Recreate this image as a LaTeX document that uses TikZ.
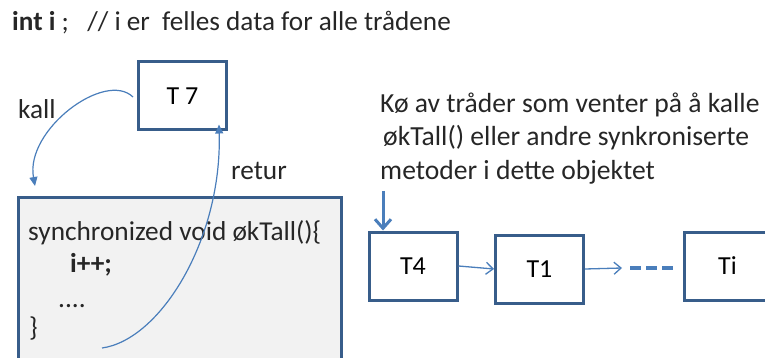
\documentclass[tikz,border=0pt]{standalone}
\usepackage{fontspec}
\setmainfont{Carlito}
\usetikzlibrary{arrows.meta}
\definecolor{boxline}{HTML}{385D8A}
\definecolor{arrowc}{HTML}{4A7EBB}
\definecolor{codefill}{HTML}{F2F2F2}
\tikzset{
  thread/.style={draw=boxline, line width=3pt, fill=white, minimum width=88pt, minimum height=68pt, inner sep=0pt, font=\fontsize{26}{30}\selectfont},
  txt/.style={inner sep=0pt, anchor=base west, font=\fontsize{27.3}{30}\selectfont, text=black!85},
  qtxt/.style={txt, font=\fontsize{27.6}{30}\selectfont},
  thin arrow/.style={draw=arrowc, line width=1.3pt, -{Straight Barb[length=7pt,width=12pt,line width=1.3pt]}},
  curve arrow/.style={draw=arrowc, line width=1.2pt, -{Triangle[length=9pt,width=8pt]}},
}
\begin{document}
\begin{tikzpicture}[x=1pt,y=-1pt]
\useasboundingbox (0,0) rectangle (765,358);
\begin{scope}
\clip (0,0) rectangle (765,358);
% code box
\node[draw=boxline, line width=3pt, fill=codefill, minimum width=323pt, minimum height=180pt, inner sep=0pt, anchor=north west] (code) at (17,196) {};
\node[txt, font=\fontsize{27.2}{30}\selectfont] (title) at (12,31) {\textbf{int i} ; \ \ // i er \ felles data for alle trådene};
\node[txt] (c1) at (28,240) {synchronized void økTall()\{};
\node[txt] (c2) at (70,272) {\textbf{i++;}};
\node[txt] (c3) at (58,307) {....};
\node[txt] (c4) at (29,336) {\}};
\node[thread] (t7) at (182.5,96) {T 7};
\node[txt] (kall) at (18,119) {kall};
\node[txt] (retur) at (231,180) {retur};
\node[qtxt] (q1) at (380,113) {Kø av tråder som venter på å kalle};
\node[qtxt] (q2) at (383,146) {økTall() eller andre synkroniserte};
\node[qtxt] (q3) at (380,179) {metoder i dette objektet};
\node[thread] (t4) at (413,266) {T4};
\node[thread] (t1) at (539.5,269) {T1};
\node[thread, minimum width=100pt, anchor=west] (ti) at (683,266) {\hspace{-14pt}Ti};
\coordinate (kallend) at (35,186);
\coordinate (returstart) at (102,348);
\coordinate (qstart) at (383,191);
\coordinate (dashstart) at (630,268);
\coordinate (dashend) at (673,268);
\draw[curve arrow] ([xshift=-4pt,yshift=-1pt]t7.west) .. controls (105,70) and (25,130) .. (kallend);
\draw[curve arrow] (returstart) .. controls (160,340) and (222,240) .. ([xshift=-9pt,yshift=7pt]t7.south east);
\draw[draw=arrowc, line width=3pt, -{Straight Barb[length=9pt,width=16pt,line width=3pt]}] (qstart) -- ([xshift=-30pt]t4.north);
\draw[thin arrow] (t4.east) -- (t1.west);
\draw[thin arrow] (t1.east) -- ([xshift=-8pt]dashstart);
\draw[draw=arrowc, line width=4.5pt, dash pattern=on 11pt off 5pt] (dashstart) -- (dashend);
\end{scope}
\end{tikzpicture}
\end{document}
